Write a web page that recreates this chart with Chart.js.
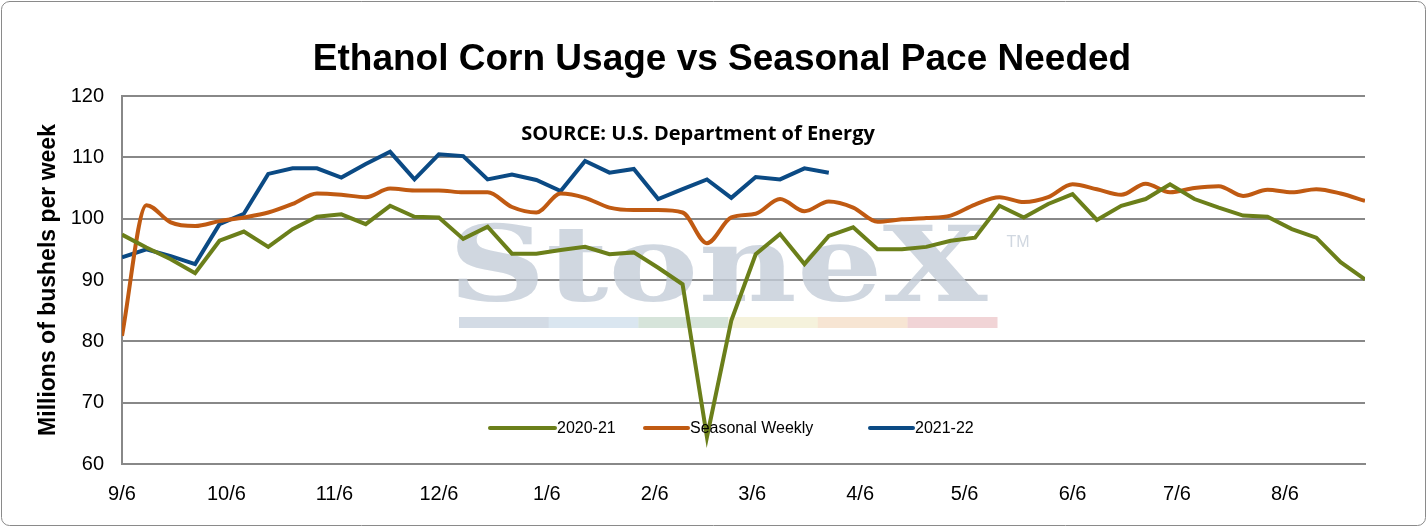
<!DOCTYPE html>
<html>
<head>
<meta charset="utf-8">
<script src="https://cdn.jsdelivr.net/npm/chart.js@4/dist/chart.umd.min.js"></script>
<style>
  html, body { margin: 0; padding: 0; background: #fff; }
  #wrap { width: 1427px; height: 527px; position: relative; }
</style>
</head>
<body>
<div id="wrap"><canvas id="c" width="1427" height="527"></canvas></div>
<script>
// Weekly values, week 0 = 9/6
const usage2021 = [
    97.4, 95.3, 93.4, 91.1, 96.4, 97.9, 95.4, 98.3, 100.3, 100.7,
    99.1, 102.1, 100.3, 100.2, 96.7, 98.7, 94.3, 94.3, 94.9, 95.4,
    94.2, 94.5, 92.0, 89.3, 64.4, 83.4, 94.2, 97.5, 92.6, 97.2,
    98.6, 95.0, 95.0, 95.4, 96.4, 96.9, 102.1, 100.2, 102.4, 104.0,
    99.8, 102.1, 103.2, 105.6, 103.2, 101.8, 100.5, 100.3, 98.3, 96.9,
    92.9, 90.1,
];
const seasonal = [
    80.9, 102.2, 99.4, 98.8, 99.6, 100.2, 101.0, 102.4, 104.1, 103.9,
    103.5, 104.9, 104.6, 104.6, 104.3, 104.3, 101.9, 101.0, 104.1, 103.4,
    101.8, 101.4, 101.4, 101.0, 96.0, 100.2, 100.8, 103.2, 101.2, 102.8,
    101.8, 99.5, 99.9, 100.1, 100.5, 102.3, 103.5, 102.7, 103.5, 105.6,
    104.8, 103.9, 105.7, 104.3, 105.0, 105.3, 103.7, 104.7, 104.3, 104.8,
    104.1, 102.9,
];
const usage2122 = [
    93.7, 95.0, 93.9, 92.6, 99.1, 100.8, 107.3, 108.2, 108.2, 106.7,
    108.9, 110.9, 106.4, 110.5, 110.2, 106.4, 107.2, 106.3, 104.5, 109.4,
    107.5, 108.1, 103.2, 104.8, 106.4, 103.4, 106.8, 106.4, 108.2, 107.5,
];
// Month labels and their position in weeks from 9/6
const monthLabels = ['9/6', '10/6', '11/6', '12/6', '1/6', '2/6', '3/6', '4/6', '5/6', '6/6', '7/6', '8/6'];
const monthWeeks = [0, 4.286, 8.714, 13, 17.429, 21.857, 25.857, 30.286, 34.571, 39, 43.286, 47.714];

const GREEN = '#6b7f1a';
const ORANGE = '#c05a12';
const BLUE = '#0b4a84';

const toPoints = arr => arr.map((v, i) => ({x: i, y: v}));

const decor = {
    id: 'decor',
    beforeDatasetsDraw(chart) {
        const c = chart.ctx;
        c.save();
        // StoneX watermark
        c.fillStyle = 'rgba(196,205,216,0.8)';
        c.font = 'bold 104px "DejaVu Serif", serif';
        c.textAlign = 'center';
        c.textBaseline = 'alphabetic';
        c.translate(718, 301);
        c.scale(1.3, 1);
        c.fillText('StoneX', 0, 0);
        c.setTransform(1, 0, 0, 1, 0, 0);
        c.font = '16px Arial';
        c.fillText('TM', 1018, 247);
        const strips = ['#d3dbe5', '#dae6f0', '#d6e4da', '#f5f2dc', '#f7e5d3', '#f1d4d6'];
        strips.forEach((col, i) => {
            c.fillStyle = col;
            c.fillRect(459 + i * 89.7, 317, 90, 11);
        });
        c.restore();
    },
    afterDraw(chart) {
        const c = chart.ctx;
        c.save();
        c.fillStyle = '#000';
        c.textAlign = 'center';
        c.textBaseline = 'middle';
        c.font = 'bold 37px Arial, "Liberation Sans"';
        c.fillText('Ethanol Corn Usage vs Seasonal Pace Needed', 722, 60);
        c.font = 'bold 20px "Open Sans", Lato, sans-serif';
        c.fillText('SOURCE: U.S. Department of Energy', 698, 134);
        // legend
        const items = [
            [GREEN, '2020-21', 490, 555],
            [ORANGE, 'Seasonal Weekly', 645, 688],
            [BLUE, '2021-22', 870, 913],
        ];
        c.font = '16px Arial, "Liberation Sans"';
        c.textAlign = 'left';
        items.forEach(([col, label, x0, x1]) => {
            c.strokeStyle = col;
            c.lineWidth = 4;
            c.lineCap = 'round';
            c.beginPath();
            c.moveTo(x0, 428);
            c.lineTo(x1, 428);
            c.stroke();
            c.fillText(label, x1 + 2, 429);
        });
        // outer border
        c.strokeStyle = '#8a8a8a';
        c.lineWidth = 1;
        c.beginPath();
        c.roundRect(1.5, 1.5, 1424, 524, 8);
        c.stroke();
        c.restore();
    },
};

new Chart(document.getElementById('c'), {
    type: 'line',
    data: {
        datasets: [
            {label: '2020-21', data: toPoints(usage2021), borderColor: GREEN, borderWidth: 4, tension: 0},
            {label: 'Seasonal Weekly', data: toPoints(seasonal), borderColor: ORANGE, borderWidth: 4, tension: 0.4, cubicInterpolationMode: 'monotone'},
            {label: '2021-22', data: toPoints(usage2122), borderColor: BLUE, borderWidth: 4, tension: 0},
        ],
    },
    options: {
        responsive: false,
        animation: false,
        elements: {point: {radius: 0}, line: {borderJoinStyle: 'miter'}},
        layout: {padding: {top: 96, right: 62, left: 35, bottom: 0}},
        plugins: {legend: {display: false}, tooltip: {enabled: false}},
        scales: {
            x: {
                type: 'linear',
                min: 0,
                max: 51,
                afterBuildTicks(scale) {
                    scale.ticks = monthWeeks.map(v => ({value: v}));
                },
                afterFit(scale) { scale.height = 63; },
                ticks: {
                    autoSkip: false,
                    maxRotation: 0,
                    color: '#000',
                    font: {size: 20, family: 'Arial'},
                    padding: 18,
                    callback(v) {
                        const i = monthWeeks.indexOf(v);
                        return i >= 0 ? monthLabels[i] : '';
                    },
                },
                grid: {display: false, drawTicks: false},
                border: {color: '#888', width: 2},
            },
            y: {
                min: 60,
                max: 120,
                afterFit(scale) { scale.width = 87; },
                ticks: {stepSize: 10, color: '#000', font: {size: 20, family: 'Arial'}, padding: 18},
                grid: {color: '#888', lineWidth: 2, drawTicks: false},
                border: {color: '#888', width: 2},
                title: {
                    display: true,
                    text: 'Millions of bushels per week',
                    color: '#000',
                    font: {size: 23, weight: 'bold', family: 'Arial'},
                    padding: {top: 0, bottom: 0},
                },
            },
        },
    },
    plugins: [decor],
});
</script>
</body>
</html>
